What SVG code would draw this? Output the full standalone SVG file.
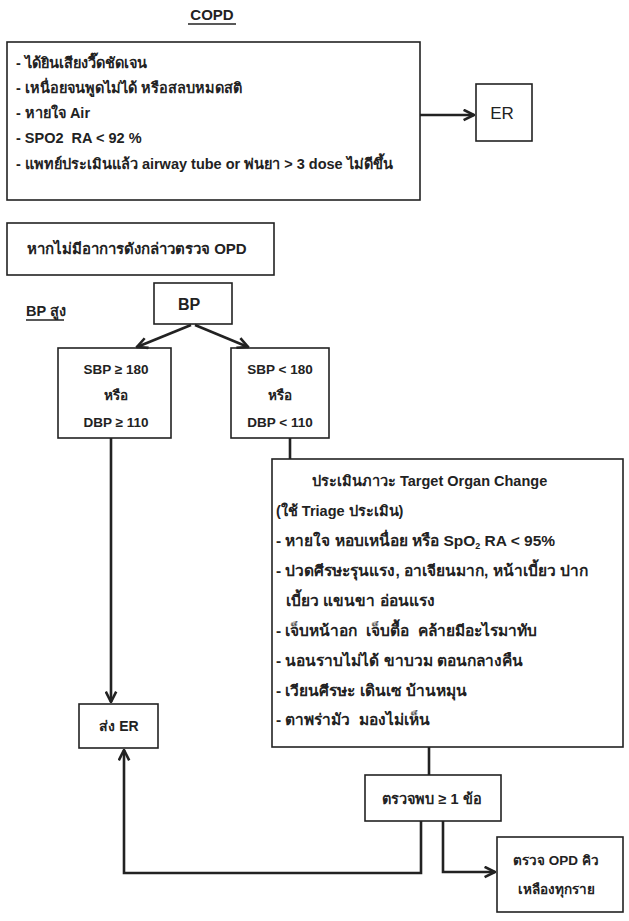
<svg xmlns="http://www.w3.org/2000/svg" width="629" height="921" viewBox="0 0 629 921">
<style>
.box{fill:#fff;stroke:#222;stroke-width:1.6}
.t{font-family:"Liberation Sans","Noto Sans",sans-serif;font-size:12px;font-weight:bold;fill:#222}
.c{text-anchor:middle}
.s13{font-size:13.5px}
.s14{font-size:14.5px}
.s15{font-size:15px}
.b{font-size:15.5px}
.con{fill:none;stroke:#222;stroke-width:2.6;stroke-linejoin:miter}
</style>
<defs>
<marker id="ah" viewBox="0 0 10 10" refX="9" refY="5" markerWidth="5" markerHeight="5" orient="auto" markerUnits="strokeWidth">
<polyline points="1,1 9,5 1,9" fill="none" stroke="#222" stroke-width="2"/>
</marker>
</defs>
<rect width="629" height="921" fill="#fff"/>
<g id="title">
<text class="t c" x="212" y="20" style="font-size:15px">COPD</text>
<line x1="188" y1="24" x2="236" y2="24" stroke="#222" stroke-width="1.3"/>
</g>
<g id="copd">
<rect class="box" x="7" y="42" width="413" height="158"/>
<text class="t s14" x="16" y="68">- ได้ยินเสียงวี๊ดชัดเจน</text>
<text class="t s14" x="16" y="93">- เหนื่อยจนพูดไม่ได้ หรือสลบหมดสติ</text>
<text class="t s14" x="16" y="118">- หายใจ Air</text>
<text class="t s14" x="16" y="143" xml:space="preserve">- SPO2  RA &lt; 92 %</text>
<text class="t s14" x="16" y="169">- แพทย์ประเมินแล้ว airway tube or พ่นยา &gt; 3 dose ไม่ดีขึ้น</text>
</g>
<g id="er">
<rect class="box" x="476" y="84" width="56" height="57"/>
<text class="t c" x="502" y="119" style="font-size:17px;font-weight:normal">ER</text>
</g>
<g id="noSymptom">
<rect class="box" x="7" y="223" width="267" height="52"/>
<text class="t s15" x="27" y="254">หากไม่มีอาการดังกล่าวตรวจ OPD</text>
</g>
<g id="bpHigh">
<text class="t s14" x="26" y="316">BP สูง</text>
<line x1="26" y1="320" x2="64" y2="320" stroke="#222" stroke-width="1.3"/>
</g>
<g id="bp">
<rect class="box" x="154" y="283" width="78" height="41"/>
<text class="t c" x="189" y="310" style="font-size:16px">BP</text>
</g>
<g id="sbpHigh">
<rect class="box" x="58" y="348" width="113" height="90"/>
<text class="t c s13" x="116" y="374">SBP ≥ 180</text>
<text class="t c s13" x="116" y="400">หรือ</text>
<text class="t c s13" x="116" y="427">DBP ≥ 110</text>
</g>
<g id="sbpLow">
<rect class="box" x="231" y="348" width="98" height="90"/>
<text class="t c s13" x="280" y="374">SBP &lt; 180</text>
<text class="t c s13" x="280" y="400">หรือ</text>
<text class="t c s13" x="280" y="427">DBP &lt; 110</text>
</g>
<g id="target">
<rect class="box" x="272" y="459" width="351" height="288"/>
<text class="t s14" x="312" y="486">ประเมินภาวะ Target Organ Change</text>
<text class="t s14" x="276" y="516">(ใช้ Triage ประเมิน)</text>
<text class="t b" x="276" y="546">- หายใจ หอบเหนื่อย หรือ SpO<tspan style="font-size:9px" dy="3">2</tspan><tspan dy="-3"> RA &lt; 95%</tspan></text>
<text class="t b" x="276" y="576">- ปวดศีรษะรุนแรง, อาเจียนมาก, หน้าเบี้ยว ปาก</text>
<text class="t b" x="286" y="606">เบี้ยว แขนขา อ่อนแรง</text>
<text class="t b" x="276" y="636" xml:space="preserve">- เจ็บหน้าอก  เจ็บตื้อ  คล้ายมีอะไรมาทับ</text>
<text class="t b" x="276" y="666">- นอนราบไม่ได้ ขาบวม ตอนกลางคืน</text>
<text class="t b" x="276" y="696">- เวียนศีรษะ เดินเซ บ้านหมุน</text>
<text class="t b" x="276" y="725" xml:space="preserve">- ตาพร่ามัว  มองไม่เห็น</text>
</g>
<g id="sendER">
<rect class="box" x="79" y="704" width="79" height="44"/>
<text class="t c" x="119" y="731" style="font-size:14px">ส่ง ER</text>
</g>
<g id="found">
<rect class="box" x="365" y="775" width="136" height="46"/>
<text class="t c s14" x="432" y="804">ตรวจพบ ≥ 1 ข้อ</text>
</g>
<g id="opd">
<rect class="box" x="497" y="837" width="126" height="75"/>
<text class="t c s13" x="556" y="865">ตรวจ OPD คิว</text>
<text class="t c s13" x="556" y="894">เหลืองทุกราย</text>
</g>
<g id="connectors">
<line class="con" x1="420" y1="115" x2="474" y2="115" marker-end="url(#ah)"/>
<line class="con" x1="191" y1="325" x2="137" y2="347" marker-end="url(#ah)"/>
<line class="con" x1="195" y1="325" x2="248" y2="347" marker-end="url(#ah)"/>
<line class="con" x1="111" y1="438" x2="111" y2="702" marker-end="url(#ah)"/>
<line class="con" x1="290" y1="438" x2="290" y2="459"/>
<line class="con" x1="429" y1="747" x2="429" y2="775"/>
<polyline class="con" points="421,821 421,873 124,873 124,750" marker-end="url(#ah)"/>
<polyline class="con" points="443,821 443,872 495,872" marker-end="url(#ah)"/>
</g>
</svg>
